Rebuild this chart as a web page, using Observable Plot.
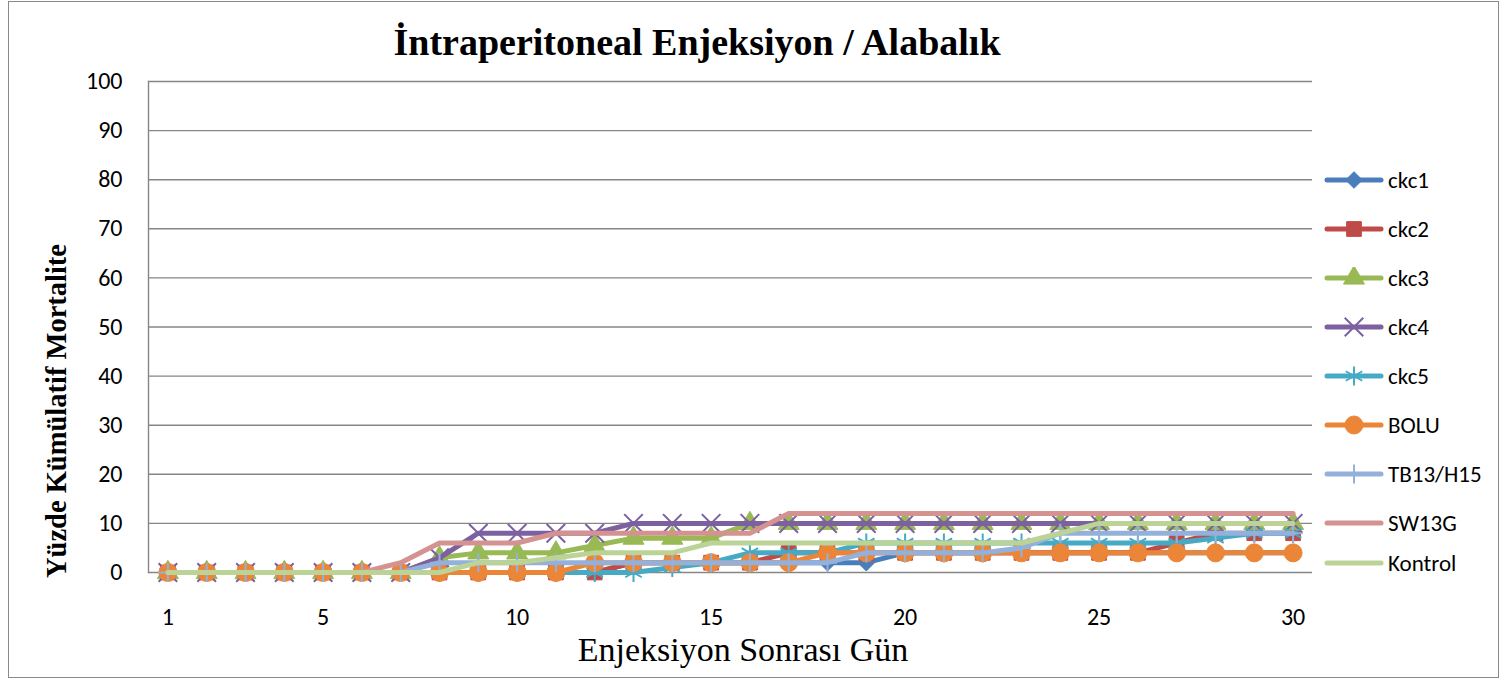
<!DOCTYPE html>
<html>
<head>
<meta charset="utf-8">
<script src="https://cdn.jsdelivr.net/npm/d3@7"></script>
<script src="https://cdn.jsdelivr.net/npm/@observablehq/plot@0.6"></script>
<style>
  html, body { margin: 0; padding: 0; background: #fff; }
  #wrap { position: relative; width: 1506px; height: 681px; overflow: hidden; }
  #wrap svg.main { position: absolute; left: 0; top: 0; }
  .abs { position: absolute; white-space: nowrap; }
  #border { position: absolute; left: 8px; top: 1px; width: 1489px; height: 675px; border: 1.5px solid #8a8a8a; pointer-events: none; }
  #title { font-family: "Liberation Serif", "Times New Roman", serif; font-weight: bold; font-size: 38px; transform: translate(-50%, -50%); }
  #ytitle { font-family: "Liberation Serif", "Times New Roman", serif; font-weight: bold; font-size: 28.5px; transform: translate(-50%, -50%) rotate(-90deg); }
  #xtitle { font-family: "Liberation Serif", "Times New Roman", serif; font-size: 34px; transform: translate(-50%, -50%); }
  .leg { position: absolute; display: flex; align-items: center; font-family: Carlito, Lato, "Open Sans", sans-serif; font-size: 23px; transform: translateY(-50%); }
  .leg svg { display: block; margin-right: 4px; }
</style>
</head>
<body>
<div id="wrap">
  <div id="title" class="abs" style="left:697px; top:42px;">İntraperitoneal Enjeksiyon / Alabalık</div>
  <div id="ytitle" class="abs" style="left:57px; top:411px;">Yüzde Kümülatif Mortalite</div>
  <div id="xtitle" class="abs" style="left:743px; top:650px;">Enjeksiyon Sonrası Gün</div>
</div>
<script>
// ---- data ----
const days = [1,2,3,4,5,6,7,8,9,10,11,12,13,14,15,16,17,18,19,20,21,22,23,24,25,26,27,28,29,30];
const xTicks = [1,5,10,15,20,25,30];
const yTicks = [0,10,20,30,40,50,60,70,80,90,100];

const ckc1    = [0,0,0,0,0,0,0,0,0,0,0,0,2,2,2,2,2,2,2,4,4,4,4,4,4,4,4,4,4,4];
const ckc2    = [0,0,0,0,0,0,0,0,0,0,0,0,2,2,2,2,4,4,4,4,4,4,4,4,4,4,6,8,8,8];
const ckc3    = [0,0,0,0,0,0,0,3,4,4,4,5.5,7,7,7,10,10,10,10,10,10,10,10,10,10,10,10,10,10,10];
const ckc4    = [0,0,0,0,0,0,0,3,8,8,8,8,10,10,10,10,10,10,10,10,10,10,10,10,10,10,10,10,10,10];
const ckc5    = [0,0,0,0,0,0,0,0,0,0,0,0,0,1,2,4,4,4,6,6,6,6,6,6,6,6,6,7,8,8];
const bolu    = [0,0,0,0,0,0,0,0,0,0,0,2,2,2,2,2,2,4,4,4,4,4,4,4,4,4,4,4,4,4];
const tb13    = [0,0,0,0,0,0,0,2,2,2,2,2,2,2,2,2,2,2,4,4,4,4,5,8,8,8,8,8,8,8];
const sw13g   = [0,0,0,0,0,0,2,6,6,6,8,8,8,8,8,8,12,12,12,12,12,12,12,12,12,12,12,12,12,12];
const kontrol = [0,0,0,0,0,0,0,0,2,2,3,4,4,4,6,6,6,6,6,6,6,6,6,8,10,10,10,10,10,10];

const seriesNames  = ["ckc1","ckc2","ckc3","ckc4","ckc5","BOLU","TB13/H15","SW13G","Kontrol"];
const seriesValues = [ckc1, ckc2, ckc3, ckc4, ckc5, bolu, tb13, sw13g, kontrol];
const seriesColors = ["#4A7EBB","#BE4B48","#98B954","#7D60A0","#46AAC5","#EB8638","#93B1DA","#D49290","#BBD396"];
const seriesSymbols = ["diamond2","square","triangle","times","asterisk","circle","plus",null,null];
const legendY = [180,229,278,327,376,425,474,523,563];

// ---- styles ----
const strokeSymbols = new Set(["times","asterisk","plus"]);
const symbolR = {diamond2: 7.5, square: 8.3, triangle: 7.8, times: 8.5, asterisk: 9, circle: 9, plus: 6.2};

const rows = seriesNames.flatMap((name, i) =>
  days.map((d, j) => ({series: name, day: d, value: seriesValues[i][j]})));

const marks = [
  Plot.ruleY(yTicks.filter(t => t > 0), {y: d => d, stroke: "#868686", strokeWidth: 1.4}),
  Plot.ruleY([0], {stroke: "#868686", strokeWidth: 1.4}),
  Plot.frame({anchor: "left", stroke: "#868686", strokeWidth: 1.4}),
  Plot.axisY({ticks: yTicks, tickSize: 0, tickPadding: 26, label: null}),
  Plot.axisX({ticks: xTicks, tickSize: 0, tickPadding: 35, label: null})
];

seriesNames.forEach((name, i) => {
  const data = rows.filter(r => r.series === name);
  marks.push(Plot.line(data, {x: "day", y: "value", stroke: seriesColors[i], strokeWidth: 5, strokeLinejoin: "round", strokeLinecap: "round"}));
  const sym = seriesSymbols[i];
  if (sym) {
    if (strokeSymbols.has(sym)) {
      marks.push(Plot.dot(data, {x: "day", y: "value", symbol: sym, r: symbolR[sym], stroke: seriesColors[i], strokeWidth: 2, fill: "none"}));
    } else {
      marks.push(Plot.dot(data, {x: "day", y: "value", symbol: sym, r: symbolR[sym], fill: seriesColors[i], stroke: seriesColors[i], strokeWidth: 1}));
    }
  }
});

const chart = Plot.plot({
  width: 1506,
  height: 681,
  marginLeft: 148,
  marginRight: 194,
  marginTop: 81,
  marginBottom: 109,
  x: {type: "linear", domain: [0.5, 30.5]},
  y: {domain: [0, 100]},
  style: {fontFamily: "Carlito, Lato, 'Open Sans', sans-serif", fontSize: "24px", color: "#000", background: "transparent"},
  marks
});
chart.classList.add("main");
const wrap = document.getElementById("wrap");
wrap.insertBefore(chart, wrap.firstChild);

// ---- legend ----
seriesNames.forEach((name, i) => {
  const item = document.createElement("div");
  item.className = "leg";
  item.style.left = "1324px";
  item.style.top = legendY[i] + "px";
  const sw = d3.create("svg").attr("width", 60).attr("height", 22);
  sw.append("line").attr("x1", 3).attr("x2", 57).attr("y1", 11).attr("y2", 11)
    .attr("stroke", seriesColors[i]).attr("stroke-width", 5).attr("stroke-linecap", "round");
  const sym = seriesSymbols[i];
  if (sym) {
    const symMap = {diamond2: d3.symbolDiamond2, square: d3.symbolSquare, triangle: d3.symbolTriangle, times: d3.symbolTimes, asterisk: d3.symbolAsterisk, circle: d3.symbolCircle, plus: d3.symbolPlus};
    const r = symbolR[sym];
    const p = sw.append("path").attr("transform", "translate(30,11)")
      .attr("d", d3.symbol(symMap[sym], Math.PI * r * r)());
    if (strokeSymbols.has(sym)) p.attr("fill", "none").attr("stroke", seriesColors[i]).attr("stroke-width", 2);
    else p.attr("fill", seriesColors[i]).attr("stroke", seriesColors[i]);
  }
  item.appendChild(sw.node());
  const t = document.createElement("span");
  t.textContent = name;
  item.appendChild(t);
  wrap.appendChild(item);
});

const border = document.createElement("div");
border.id = "border";
wrap.appendChild(border);
</script>
</body>
</html>
